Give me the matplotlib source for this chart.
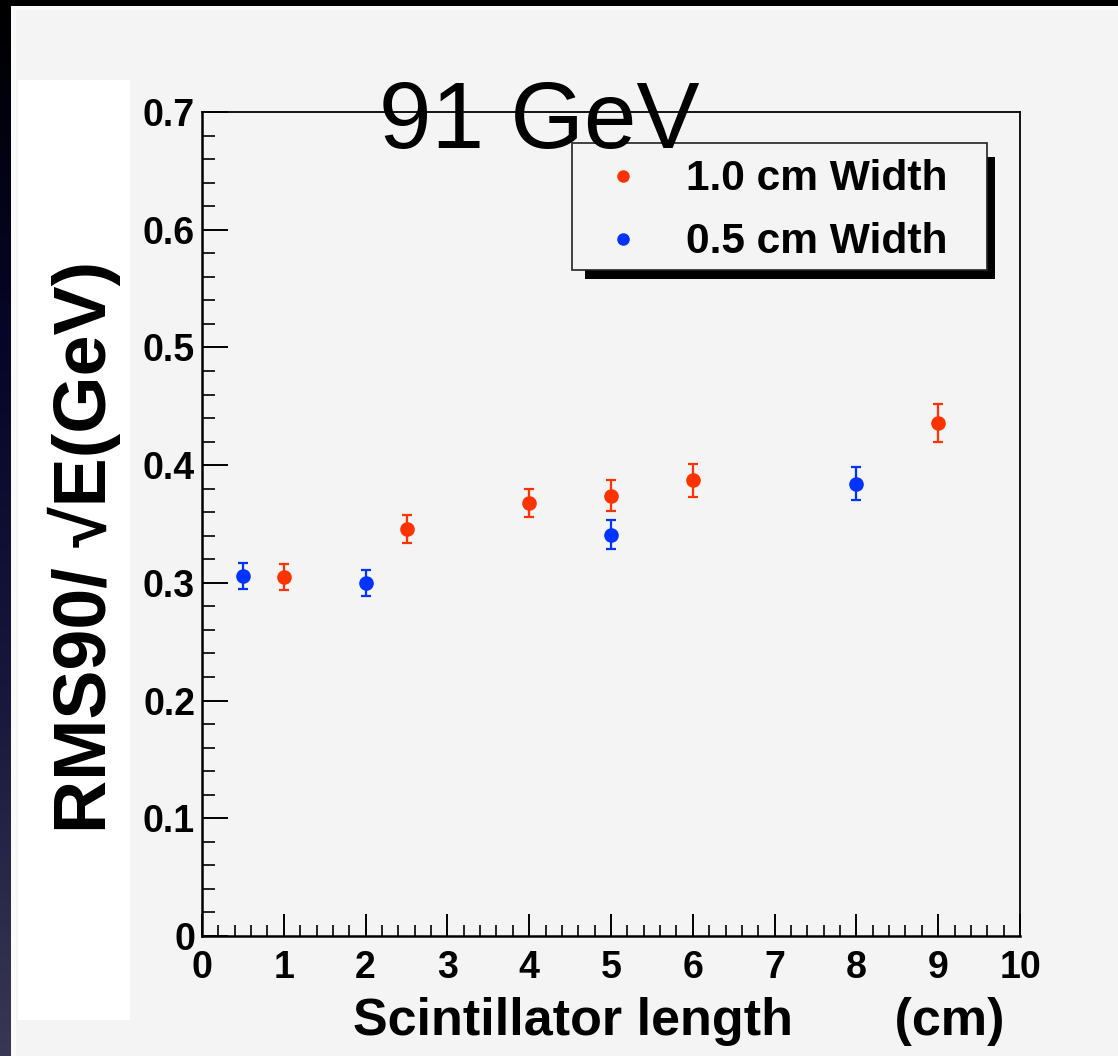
import matplotlib
matplotlib.use("Agg")
import matplotlib.pyplot as plt
import numpy as np
from matplotlib.patches import Rectangle
from matplotlib.lines import Line2D

# data
x_10 = [1, 2.5, 4, 5, 6, 9]
y_10 = [0.305, 0.346, 0.368, 0.374, 0.387, 0.436]
e_10 = [0.011, 0.012, 0.012, 0.013, 0.014, 0.016]

x_05 = [0.5, 2, 5, 8]
y_05 = [0.306, 0.300, 0.341, 0.384]
e_05 = [0.011, 0.011, 0.012, 0.014]

xticks = list(range(0, 11))
yticks = [0, 0.1, 0.2, 0.3, 0.4, 0.5, 0.6, 0.7]
ytick_labels = ["0", "0.1", "0.2", "0.3", "0.4", "0.5", "0.6", "0.7"]

red = "#ff3300"
blue = "#0033ff"
gray = "#f4f4f4"
FONT = ["Liberation Sans", "DejaVu Sans"]

W, H = 1118, 1056
def fx(px):
    return px / W
def fy(py):
    return 1 - py / H

fig = plt.figure(figsize=(W / 100, H / 100), dpi=100, facecolor="black")
plt.rcParams["font.family"] = FONT

# dark gradient strip on the left
gax = fig.add_axes([0, 0, fx(11), 1])
grad = np.linspace(0, 1, 256).reshape(-1, 1)
gax.imshow(grad, aspect="auto", cmap=matplotlib.colors.LinearSegmentedColormap.from_list(
    "bg", ["#000000", "#06062a", "#18183e", "#383854"]), extent=[0, 1, 0, 1])
gax.axis("off")

# panel background
fig.add_artist(Rectangle((fx(11), 0), 1 - fx(11), fy(6), transform=fig.transFigure,
                         facecolor="#fafafa", edgecolor="none", zorder=0))
fig.add_artist(Rectangle((fx(16), 0), 1 - fx(16), fy(10), transform=fig.transFigure,
                         facecolor=gray, edgecolor="none", zorder=0))
fig.add_artist(Rectangle((fx(18), fy(1020)), fx(130) - fx(18), fy(80) - fy(1020),
                         transform=fig.transFigure, facecolor="white", edgecolor="none", zorder=0))

ax = fig.add_axes([fx(202), fy(936), fx(1020) - fx(202), fy(112) - fy(936)])
ax.set_facecolor(gray)

ax.errorbar(x_10, y_10, yerr=e_10, fmt="o", color=red, ms=9.5, capsize=3.6,
            elinewidth=1.6, capthick=1.6, zorder=3)
ax.errorbar(x_05, y_05, yerr=e_05, fmt="o", color=blue, ms=9.5, capsize=3.6,
            elinewidth=1.6, capthick=1.6, zorder=3)

ax.set_xlim(0, 10)
ax.set_ylim(0, 0.7)
ax.set_xticks(xticks)
ax.set_xticklabels([str(t) for t in xticks])
ax.set_yticks(yticks)
ax.set_yticklabels(ytick_labels)
ax.set_xticks(np.arange(0, 10.01, 0.2), minor=True)
ax.set_yticks(np.arange(0, 0.701, 0.02), minor=True)

ax.tick_params(axis="x", which="major", direction="in", length=16, width=1.4, pad=10)
ax.tick_params(axis="x", which="minor", direction="in", length=8, width=1.2)
ax.tick_params(axis="y", which="major", direction="in", length=19, width=1.4, pad=5)
ax.tick_params(axis="y", which="minor", direction="in", length=9.5, width=1.2)
for lab in ax.get_xticklabels() + ax.get_yticklabels():
    lab.set_fontsize(27)
    lab.set_fontweight("bold")
for side in ["left", "bottom"]:
    ax.spines[side].set_linewidth(1.8)
for side in ["top", "right"]:
    ax.spines[side].set_linewidth(1.3)

# axis titles
fig.text(fx(84), fy(547), "RMS90/ \u221aE(GeV)", rotation=90, ha="center", va="center",
         fontsize=53, fontweight="bold")
fig.text(fx(1005), fy(1035), "Scintillator length       (cm)", ha="right", va="baseline",
         fontsize=37.5, fontweight="bold")

# title
fig.text(fx(539), fy(148), "91 GeV", ha="center", va="baseline", fontsize=68, zorder=10)

# legend with shadow
fig.add_artist(Rectangle((fx(585), fy(279)), fx(995) - fx(585), fy(157) - fy(279),
                         transform=fig.transFigure, facecolor="black", edgecolor="none", zorder=5))
fig.add_artist(Rectangle((fx(572), fy(270)), fx(987) - fx(572), fy(143) - fy(270),
                         transform=fig.transFigure, facecolor=gray, edgecolor="#222222",
                         linewidth=1.2, zorder=6))
legend_items = [("1.0 cm Width", red, 176), ("0.5 cm Width", blue, 239)]
for label, c, py in legend_items:
    fig.add_artist(Line2D([fx(623)], [fy(py)], marker="o", color=c, ms=8,
                          transform=fig.transFigure, zorder=7))
    fig.text(fx(686), fy(py + 3), label, ha="left", va="center", fontsize=30.6,
             fontweight="bold", zorder=7)

fig.savefig("out.png", dpi=100, facecolor=fig.get_facecolor())
